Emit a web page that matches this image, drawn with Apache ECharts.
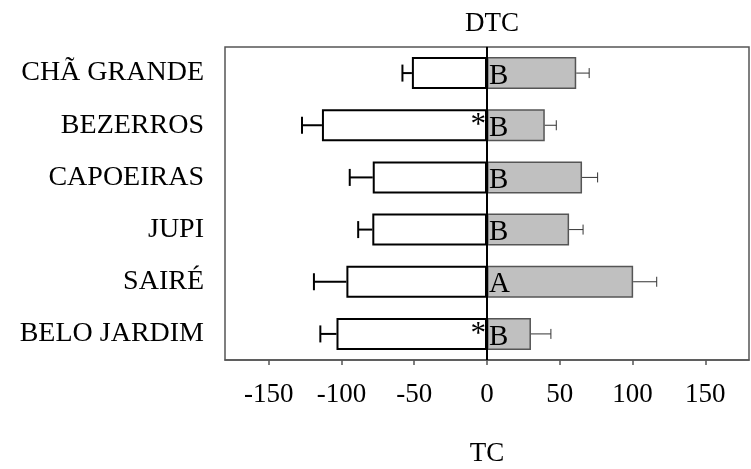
<!DOCTYPE html>
<html>
<head>
<meta charset="utf-8">
<script src="https://cdn.jsdelivr.net/npm/echarts@6/dist/echarts.min.js"></script>
<style>
  html, body { margin: 0; padding: 0; background: #fff; }
  #chartmain { width: 751px; height: 469px; }
</style>
</head>
<body>
<div id="chartmain"></div>
<script>
// 数据
var categories = ['CHÃ GRANDE', 'BEZERROS', 'CAPOEIRAS', 'JUPI', 'SAIRÉ', 'BELO JARDIM'];
var tcValues = [-51.6, -113.4, -78.5, -78.8, -96.6, -103.4];
var tcErrors = [6.5, 13.7, 15.8, 9.7, 22.3, 11.1];
var dtcValues = [61.3, 39.7, 65.3, 56.4, 100.4, 30.2];
var dtcErrors = [8.9, 7.9, 10.7, 9.6, 16.2, 13.7];
var letters = ['B', 'B', 'B', 'B', 'A', 'B'];
var stars = ['', '*', '', '', '', '*'];
var tickValues = [-150, -100, -50, 0, 50, 100, 150];

var fontName = 'Liberation Serif';

// 误差线数据
var errTc = [];
var errDtc = [];
for (var i = 0; i < categories.length; i++) {
    errTc.push([tcValues[i], tcValues[i] - tcErrors[i], i]);
    errDtc.push([dtcValues[i], dtcValues[i] + dtcErrors[i], i]);
}

function errorRender(capH, color, width) {
    return function (params, api) {
        var idx = api.value(2);
        var p0 = api.coord([api.value(0), idx]);
        var p1 = api.coord([api.value(1), idx]);
        return {
            type: 'group',
            children: [
                {
                    type: 'line',
                    shape: { x1: p0[0], y1: p0[1], x2: p1[0], y2: p1[1] },
                    style: { stroke: color, lineWidth: width }
                },
                {
                    type: 'line',
                    shape: { x1: p1[0], y1: p1[1] - capH / 2, x2: p1[0], y2: p1[1] + capH / 2 },
                    style: { stroke: color, lineWidth: width }
                }
            ]
        };
    };
}

var tcData = [];
var dtcData = [];
for (var i = 0; i < categories.length; i++) {
    tcData.push({ value: tcValues[i], label: { show: stars[i] != '', formatter: stars[i] } });
    dtcData.push({ value: dtcValues[i], label: { show: true, formatter: letters[i] } });
}

option = {
    animation: false,
    title: {
        text: 'DTC',
        left: 487,
        top: 5,
        textAlign: 'center',
        textStyle: { fontFamily: fontName, fontSize: 27, fontWeight: 'normal', color: '#000' }
    },
    grid: {
        left: 225,
        right: 2,
        top: 47,
        bottom: 109,
        outerBoundsMode: 'none',
        show: true,
        borderColor: '#555',
        borderWidth: 1.5
    },
    xAxis: {
        type: 'value',
        min: -180,
        max: 180,
        name: 'TC',
        nameLocation: 'middle',
        nameGap: 80,
        nameTextStyle: { fontFamily: fontName, fontSize: 27, color: '#000' },
        splitLine: { show: false },
        axisLine: { show: true, lineStyle: { color: '#555', width: 1.5 } },
        axisTick: { show: true, length: 5, customValues: tickValues, lineStyle: { color: '#555', width: 1.5 } },
        axisLabel: {
            customValues: tickValues,
            margin: 21,
            fontFamily: fontName,
            fontSize: 27,
            color: '#000'
        }
    },
    yAxis: {
        type: 'category',
        data: categories,
        inverse: true,
        axisLine: { show: true, lineStyle: { color: '#555', width: 1.5 } },
        axisTick: { show: true, alignWithLabel: true, length: 6, lineStyle: { color: '#555', width: 1.5 } },
        axisLabel: { margin: 21, fontFamily: fontName, fontSize: 28, color: '#000' }
    },
    series: [
        {
            name: 'TC',
            type: 'bar',
            stack: 'a',
            barWidth: 32,
            itemStyle: { color: '#fff', borderColor: '#000', borderWidth: 2 },
            label: {
                position: 'insideRight',
                distance: 1,
                offset: [0, 1],
                fontFamily: fontName,
                fontSize: 31,
                color: '#000'
            },
            data: tcData
        },
        {
            name: 'DTC',
            type: 'bar',
            stack: 'a',
            barWidth: 32,
            itemStyle: { color: '#c0c0c0', borderColor: '#555', borderWidth: 1.5 },
            label: {
                position: 'insideLeft',
                distance: 2,
                offset: [0, 3],
                fontFamily: fontName,
                fontSize: 29,
                color: '#000'
            },
            data: dtcData,
            markLine: {
                silent: true,
                symbol: 'none',
                label: { show: false },
                lineStyle: { color: '#000', width: 2, type: 'solid' },
                data: [{ xAxis: 0 }]
            }
        },
        {
            type: 'custom',
            renderItem: errorRender(17, '#000', 2),
            encode: { x: [0, 1], y: 2 },
            data: errTc,
            z: 3
        },
        {
            type: 'custom',
            renderItem: errorRender(10, '#333', 1),
            encode: { x: [0, 1], y: 2 },
            data: errDtc,
            z: 3
        }
    ]
};

var myChart = echarts.init(document.getElementById('chartmain'));
myChart.setOption(option);
</script>
</body>
</html>
